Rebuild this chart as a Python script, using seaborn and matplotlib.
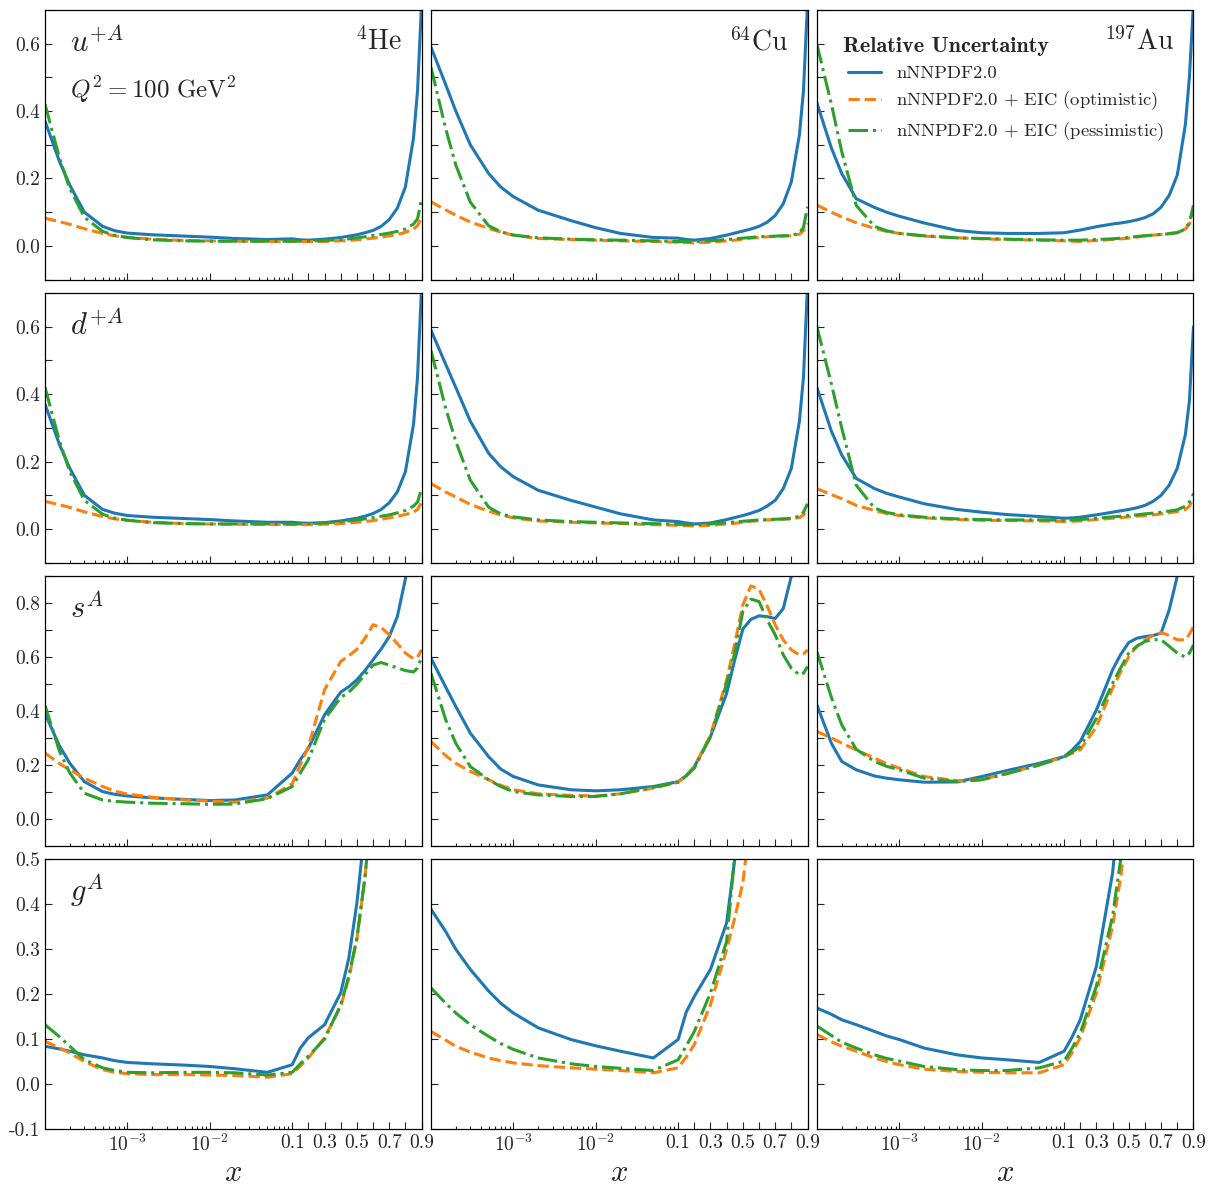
import numpy as np
import matplotlib
matplotlib.use("Agg")
import matplotlib.pyplot as plt
import seaborn as sns

# ---- data ----
X = [1e-4, 1.5e-4, 2e-4, 3e-4, 5e-4, 7e-4, 1e-3, 2e-3, 5e-3, 1e-2, 2e-2, 5e-2,
     0.1, 0.15, 0.2, 0.3, 0.4, 0.45, 0.5, 0.55, 0.6, 0.65, 0.7, 0.75, 0.8, 0.85, 0.875, 0.9]

nuclei = [r"$^{4}\mathrm{He}$", r"$^{64}\mathrm{Cu}$", r"$^{197}\mathrm{Au}$"]
flavours = [r"$u^{+A}$", r"$d^{+A}$", r"$s^{A}$", r"$g^{A}$"]
series_labels = ["nNNPDF2.0",
                 r"nNNPDF2.0 $+$ EIC (optimistic)",
                 r"nNNPDF2.0 $+$ EIC (pessimistic)"]

# u+A
u_he_base = [0.37, 0.25, 0.18, 0.1, 0.058, 0.045, 0.038, 0.033, 0.029, 0.026, 0.022, 0.019, 0.021, 0.018, 0.017, 0.02, 0.025, 0.029, 0.033, 0.039, 0.046, 0.058, 0.078, 0.112, 0.175, 0.32, 0.46, 0.72]
u_he_opt = [0.082, 0.072, 0.064, 0.051, 0.037, 0.03, 0.025, 0.02, 0.016, 0.015, 0.014, 0.013, 0.013, 0.013, 0.013, 0.013, 0.015, 0.016, 0.018, 0.02, 0.023, 0.026, 0.03, 0.034, 0.04, 0.05, 0.06, 0.085]
u_he_pes = [0.42, 0.26, 0.17, 0.085, 0.043, 0.031, 0.025, 0.018, 0.015, 0.014, 0.014, 0.014, 0.014, 0.014, 0.014, 0.016, 0.019, 0.021, 0.024, 0.027, 0.031, 0.034, 0.038, 0.043, 0.05, 0.065, 0.08, 0.14]
u_cu_base = [0.59, 0.48, 0.40, 0.30, 0.215, 0.175, 0.146, 0.106, 0.075, 0.054, 0.037, 0.025, 0.023, 0.019, 0.017, 0.022, 0.032, 0.038, 0.044, 0.05, 0.058, 0.07, 0.09, 0.125, 0.19, 0.33, 0.46, 0.72]
u_cu_opt = [0.131, 0.107, 0.091, 0.071, 0.052, 0.041, 0.032, 0.022, 0.019, 0.017, 0.015, 0.013, 0.011, 0.01, 0.009, 0.011, 0.015, 0.017, 0.02, 0.023, 0.025, 0.027, 0.028, 0.029, 0.03, 0.035, 0.045, 0.067]
u_cu_pes = [0.53, 0.35, 0.24, 0.13, 0.06, 0.042, 0.032, 0.024, 0.02, 0.018, 0.017, 0.015, 0.013, 0.013, 0.013, 0.015, 0.019, 0.021, 0.023, 0.025, 0.027, 0.028, 0.029, 0.03, 0.031, 0.038, 0.055, 0.116]
u_au_base = [0.424, 0.29, 0.215, 0.14, 0.114, 0.1, 0.088, 0.068, 0.046, 0.039, 0.037, 0.037, 0.039, 0.043, 0.047, 0.057, 0.065, 0.068, 0.072, 0.077, 0.084, 0.095, 0.115, 0.15, 0.21, 0.36, 0.5, 0.72]
u_au_opt = [0.121, 0.1, 0.086, 0.069, 0.052, 0.043, 0.037, 0.029, 0.024, 0.021, 0.019, 0.017, 0.015, 0.014, 0.013, 0.016, 0.019, 0.021, 0.023, 0.026, 0.03, 0.032, 0.034, 0.037, 0.04, 0.05, 0.065, 0.096]
u_au_pes = [0.598, 0.42, 0.28, 0.12, 0.058, 0.045, 0.037, 0.03, 0.024, 0.022, 0.02, 0.018, 0.017, 0.017, 0.017, 0.019, 0.021, 0.023, 0.025, 0.028, 0.03, 0.032, 0.034, 0.036, 0.039, 0.05, 0.07, 0.12]

# d+A
d_he_base = [0.37, 0.25, 0.18, 0.1, 0.058, 0.047, 0.04, 0.035, 0.031, 0.028, 0.024, 0.02, 0.02, 0.018, 0.017, 0.019, 0.024, 0.028, 0.032, 0.038, 0.046, 0.058, 0.078, 0.11, 0.17, 0.31, 0.45, 0.72]
d_he_opt = [0.082, 0.072, 0.064, 0.051, 0.037, 0.03, 0.026, 0.02, 0.016, 0.015, 0.014, 0.014, 0.013, 0.013, 0.013, 0.014, 0.016, 0.018, 0.02, 0.022, 0.025, 0.029, 0.033, 0.038, 0.043, 0.05, 0.058, 0.08]
d_he_pes = [0.42, 0.26, 0.17, 0.085, 0.044, 0.032, 0.026, 0.019, 0.016, 0.015, 0.015, 0.015, 0.015, 0.015, 0.016, 0.018, 0.022, 0.024, 0.027, 0.03, 0.034, 0.038, 0.042, 0.048, 0.055, 0.068, 0.08, 0.12]
d_cu_base = [0.59, 0.49, 0.42, 0.32, 0.225, 0.185, 0.155, 0.115, 0.085, 0.065, 0.045, 0.027, 0.022, 0.018, 0.015, 0.018, 0.028, 0.034, 0.04, 0.047, 0.055, 0.068, 0.085, 0.12, 0.18, 0.32, 0.45, 0.72]
d_cu_opt = [0.135, 0.11, 0.095, 0.073, 0.053, 0.042, 0.033, 0.024, 0.02, 0.018, 0.016, 0.013, 0.011, 0.01, 0.009, 0.011, 0.015, 0.017, 0.02, 0.023, 0.025, 0.027, 0.028, 0.029, 0.03, 0.034, 0.042, 0.06]
d_cu_pes = [0.53, 0.36, 0.26, 0.145, 0.065, 0.045, 0.036, 0.027, 0.022, 0.02, 0.018, 0.016, 0.014, 0.013, 0.013, 0.015, 0.019, 0.021, 0.023, 0.025, 0.027, 0.028, 0.029, 0.03, 0.032, 0.038, 0.05, 0.075]
d_au_base = [0.42, 0.29, 0.22, 0.15, 0.12, 0.106, 0.095, 0.075, 0.058, 0.05, 0.043, 0.037, 0.032, 0.033, 0.035, 0.042, 0.05, 0.054, 0.058, 0.063, 0.07, 0.082, 0.1, 0.13, 0.18, 0.28, 0.38, 0.6]
d_au_opt = [0.12, 0.102, 0.09, 0.07, 0.055, 0.046, 0.04, 0.033, 0.028, 0.026, 0.025, 0.024, 0.022, 0.023, 0.024, 0.028, 0.032, 0.034, 0.036, 0.038, 0.04, 0.042, 0.045, 0.048, 0.052, 0.058, 0.068, 0.09]
d_au_pes = [0.6, 0.43, 0.3, 0.13, 0.062, 0.049, 0.042, 0.035, 0.03, 0.028, 0.027, 0.027, 0.026, 0.027, 0.028, 0.032, 0.036, 0.038, 0.04, 0.042, 0.045, 0.047, 0.05, 0.053, 0.057, 0.068, 0.08, 0.105]

# s
s_he_base = [0.39, 0.27, 0.206, 0.138, 0.101, 0.091, 0.085, 0.078, 0.072, 0.068, 0.07, 0.089, 0.17, 0.22, 0.262, 0.386, 0.47, 0.49, 0.516, 0.55, 0.59, 0.63, 0.676, 0.75, 0.89, 1.1, 1.25, 1.4]
s_he_opt = [0.244, 0.205, 0.182, 0.151, 0.12, 0.103, 0.092, 0.08, 0.07, 0.066, 0.062, 0.077, 0.13, 0.2, 0.268, 0.479, 0.584, 0.605, 0.629, 0.67, 0.72, 0.71, 0.683, 0.65, 0.615, 0.594, 0.6, 0.627]
s_he_pes = [0.42, 0.25, 0.17, 0.095, 0.07, 0.065, 0.062, 0.058, 0.056, 0.054, 0.055, 0.075, 0.12, 0.17, 0.22, 0.37, 0.45, 0.47, 0.5, 0.535, 0.57, 0.58, 0.57, 0.56, 0.55, 0.545, 0.56, 0.6]
s_cu_base = [0.596, 0.49, 0.417, 0.318, 0.231, 0.185, 0.157, 0.126, 0.108, 0.104, 0.108, 0.12, 0.138, 0.16, 0.194, 0.305, 0.466, 0.59, 0.704, 0.74, 0.753, 0.75, 0.743, 0.78, 0.9, 1.2, 1.35, 1.5]
s_cu_opt = [0.287, 0.235, 0.206, 0.176, 0.145, 0.125, 0.108, 0.093, 0.087, 0.085, 0.093, 0.114, 0.136, 0.16, 0.194, 0.31, 0.516, 0.65, 0.794, 0.864, 0.852, 0.79, 0.72, 0.664, 0.627, 0.608, 0.612, 0.627]
s_cu_pes = [0.54, 0.37, 0.28, 0.194, 0.145, 0.12, 0.101, 0.089, 0.083, 0.083, 0.093, 0.117, 0.136, 0.16, 0.188, 0.305, 0.503, 0.615, 0.769, 0.815, 0.806, 0.738, 0.683, 0.608, 0.559, 0.534, 0.54, 0.565]
s_au_base = [0.423, 0.28, 0.213, 0.182, 0.159, 0.151, 0.145, 0.136, 0.137, 0.157, 0.179, 0.206, 0.231, 0.255, 0.287, 0.404, 0.553, 0.61, 0.654, 0.67, 0.676, 0.68, 0.689, 0.775, 0.9, 1.2, 1.35, 1.5]
s_au_opt = [0.324, 0.3, 0.281, 0.256, 0.225, 0.205, 0.188, 0.157, 0.142, 0.145, 0.169, 0.2, 0.231, 0.243, 0.256, 0.342, 0.485, 0.545, 0.602, 0.64, 0.664, 0.68, 0.691, 0.68, 0.664, 0.664, 0.685, 0.713]
s_au_pes = [0.62, 0.45, 0.349, 0.258, 0.213, 0.195, 0.182, 0.151, 0.138, 0.145, 0.167, 0.2, 0.229, 0.248, 0.268, 0.373, 0.503, 0.56, 0.615, 0.64, 0.658, 0.665, 0.664, 0.64, 0.615, 0.6, 0.615, 0.645]

# g
g_he_base = [0.084, 0.078, 0.073, 0.065, 0.058, 0.052, 0.048, 0.045, 0.042, 0.039, 0.034, 0.026, 0.043, 0.08, 0.103, 0.132, 0.203, 0.28, 0.403, 0.57, 0.8, 1.0, 1.3, 1.5, 1.8, 2.0, 2.1, 2.2]
g_he_opt = [0.095, 0.08, 0.069, 0.05, 0.032, 0.026, 0.023, 0.021, 0.021, 0.02, 0.019, 0.015, 0.023, 0.04, 0.058, 0.103, 0.173, 0.235, 0.322, 0.46, 0.66, 0.9, 1.1, 1.3, 1.5, 1.7, 1.8, 1.9]
g_he_pes = [0.132, 0.105, 0.084, 0.054, 0.036, 0.03, 0.026, 0.025, 0.026, 0.026, 0.025, 0.02, 0.026, 0.045, 0.062, 0.1, 0.176, 0.24, 0.325, 0.46, 0.65, 0.9, 1.1, 1.3, 1.5, 1.7, 1.8, 1.9]
g_cu_base = [0.389, 0.34, 0.3, 0.255, 0.207, 0.18, 0.158, 0.125, 0.099, 0.085, 0.073, 0.058, 0.099, 0.16, 0.195, 0.255, 0.359, 0.5, 0.78, 1.0, 1.3, 1.5, 1.8, 2.0, 2.2, 2.4, 2.5, 2.6]
g_cu_opt = [0.117, 0.098, 0.084, 0.071, 0.058, 0.052, 0.047, 0.041, 0.036, 0.033, 0.03, 0.025, 0.036, 0.06, 0.088, 0.177, 0.3, 0.37, 0.448, 0.6, 0.8, 1.0, 1.3, 1.5, 1.8, 2.0, 2.1, 2.2]
g_cu_pes = [0.214, 0.18, 0.158, 0.132, 0.106, 0.09, 0.077, 0.058, 0.045, 0.039, 0.035, 0.03, 0.054, 0.085, 0.117, 0.203, 0.318, 0.51, 0.7, 0.95, 1.2, 1.4, 1.7, 1.9, 2.1, 2.3, 2.4, 2.5]
g_au_base = [0.169, 0.155, 0.143, 0.132, 0.117, 0.107, 0.099, 0.08, 0.065, 0.058, 0.054, 0.048, 0.073, 0.105, 0.143, 0.262, 0.47, 0.65, 0.85, 1.1, 1.4, 1.6, 1.9, 2.1, 2.3, 2.5, 2.6, 2.7]
g_au_opt = [0.11, 0.094, 0.084, 0.073, 0.058, 0.05, 0.043, 0.033, 0.028, 0.026, 0.025, 0.025, 0.043, 0.07, 0.103, 0.203, 0.351, 0.46, 0.6, 0.8, 1.0, 1.2, 1.5, 1.7, 1.9, 2.1, 2.2, 2.3]
g_au_pes = [0.129, 0.108, 0.093, 0.08, 0.065, 0.057, 0.051, 0.039, 0.032, 0.03, 0.03, 0.036, 0.051, 0.08, 0.114, 0.218, 0.374, 0.5, 0.64, 0.85, 1.1, 1.3, 1.6, 1.8, 2.0, 2.2, 2.3, 2.4]

panels = [
    [(u_he_base, u_he_opt, u_he_pes), (u_cu_base, u_cu_opt, u_cu_pes), (u_au_base, u_au_opt, u_au_pes)],
    [(d_he_base, d_he_opt, d_he_pes), (d_cu_base, d_cu_opt, d_cu_pes), (d_au_base, d_au_opt, d_au_pes)],
    [(s_he_base, s_he_opt, s_he_pes), (s_cu_base, s_cu_opt, s_cu_pes), (s_au_base, s_au_opt, s_au_pes)],
    [(g_he_base, g_he_opt, g_he_pes), (g_cu_base, g_cu_opt, g_cu_pes), (g_au_base, g_au_opt, g_au_pes)],
]

row_ymax = [0.7, 0.7, 0.9, 0.5]
colors = ["#1f77b4", "#ff7f0e", "#2ca02c"]
styles = ["-", "--", "-."]

# ---- style ----
sns.set_style("ticks")
plt.rcParams["font.family"] = "serif"
plt.rcParams["font.serif"] = ["cmr10", "DejaVu Serif"]
plt.rcParams["mathtext.fontset"] = "cm"
plt.rcParams["axes.unicode_minus"] = False
plt.rcParams["axes.linewidth"] = 0.9
plt.rcParams["axes.edgecolor"] = "black"


# log below 0.1, linear above
L = 1.57
def fwd(x):
    x = np.asarray(x, dtype=float)
    xs = np.clip(x, 1e-12, None)
    return np.where(x < 0.1, np.log10(xs), -1 + (x - 0.1) / 0.8 * L)


def inv(t):
    t = np.asarray(t, dtype=float)
    return np.where(t < -1, np.power(10.0, np.minimum(t, 0)), 0.1 + (t + 1) * 0.8 / L)


fig, axes = plt.subplots(4, 3, figsize=(12.11, 11.87), dpi=100, sharex=True, sharey="row",
                         gridspec_kw=dict(left=0.0372, right=0.9855, top=0.9916, bottom=0.0489,
                                          wspace=0.025, hspace=0.05))

major_x = [1e-3, 1e-2, 0.1, 0.2, 0.3, 0.4, 0.5, 0.6, 0.7, 0.8, 0.9]
major_lab = [r"$10^{-3}$", r"$10^{-2}$", "0.1", "", "0.3", "", "0.5", "", "0.7", "", "0.9"]
minor_x = [k * 10.0 ** e for e in (-4, -3, -2) for k in range(2, 10)]

for r in range(4):
    for c in range(3):
        ax = axes[r, c]
        ax.set_xscale("function", functions=(fwd, inv))
        for vals, col, ls, lab in zip(panels[r][c], colors, styles, series_labels):
            sns.lineplot(x=X, y=vals, ax=ax, color=col, linestyle=ls, linewidth=2.2,
                         label=lab, legend=False, estimator=None, sort=False)
        ax.set_xlim(1e-4, 0.9)
        ax.set_ylim(-0.1, row_ymax[r])
        ax.tick_params(which="both", direction="in", top=False, right=False, width=0.8)
        ax.tick_params(which="major", length=5, labelsize=14)
        ax.tick_params(which="minor", length=2.5)

    ytk = np.round(np.arange(-0.1, row_ymax[r] + 0.001, 0.1), 1)
    if r == 3:
        ylab = ["%.1f" % v for v in ytk]
    else:
        ylab = ["%.1f" % v if (v >= 0 and round(v * 10) % 2 == 0 and v < row_ymax[r]) else "" for v in ytk]
    axes[r, 0].set_yticks(ytk)
    axes[r, 0].set_yticklabels(ylab)
    axes[r, 0].text(0.065, 0.845, flavours[r], transform=axes[r, 0].transAxes,
                    fontsize=22, va="baseline", ha="left")

axes[0, 0].set_xticks(major_x)
axes[0, 0].set_xticklabels(major_lab)
axes[0, 0].set_xticks(minor_x, minor=True)

for c in range(3):
    axes[3, c].set_xlabel(r"$x$", fontsize=22, labelpad=3)
    axes[0, c].text(0.948, 0.85, nuclei[c], transform=axes[0, c].transAxes,
                    fontsize=20, va="baseline", ha="right")

axes[0, 0].text(0.066, 0.673, r"$Q^2 = 100\ \mathrm{GeV}^2$", transform=axes[0, 0].transAxes,
                fontsize=18, va="baseline", ha="left")

axes[0, 2].text(0.069, 0.844, "Relative Uncertainty", transform=axes[0, 2].transAxes,
                family="cmb10", fontsize=16, va="baseline", ha="left")
leg = axes[0, 2].legend(loc="upper left", bbox_to_anchor=(0.082, 0.795), frameon=False,
                        fontsize=13.4, borderpad=0, borderaxespad=0, labelspacing=0.45,
                        handlelength=1.8, handletextpad=0.8)

fig.savefig("out.png", dpi=100)
